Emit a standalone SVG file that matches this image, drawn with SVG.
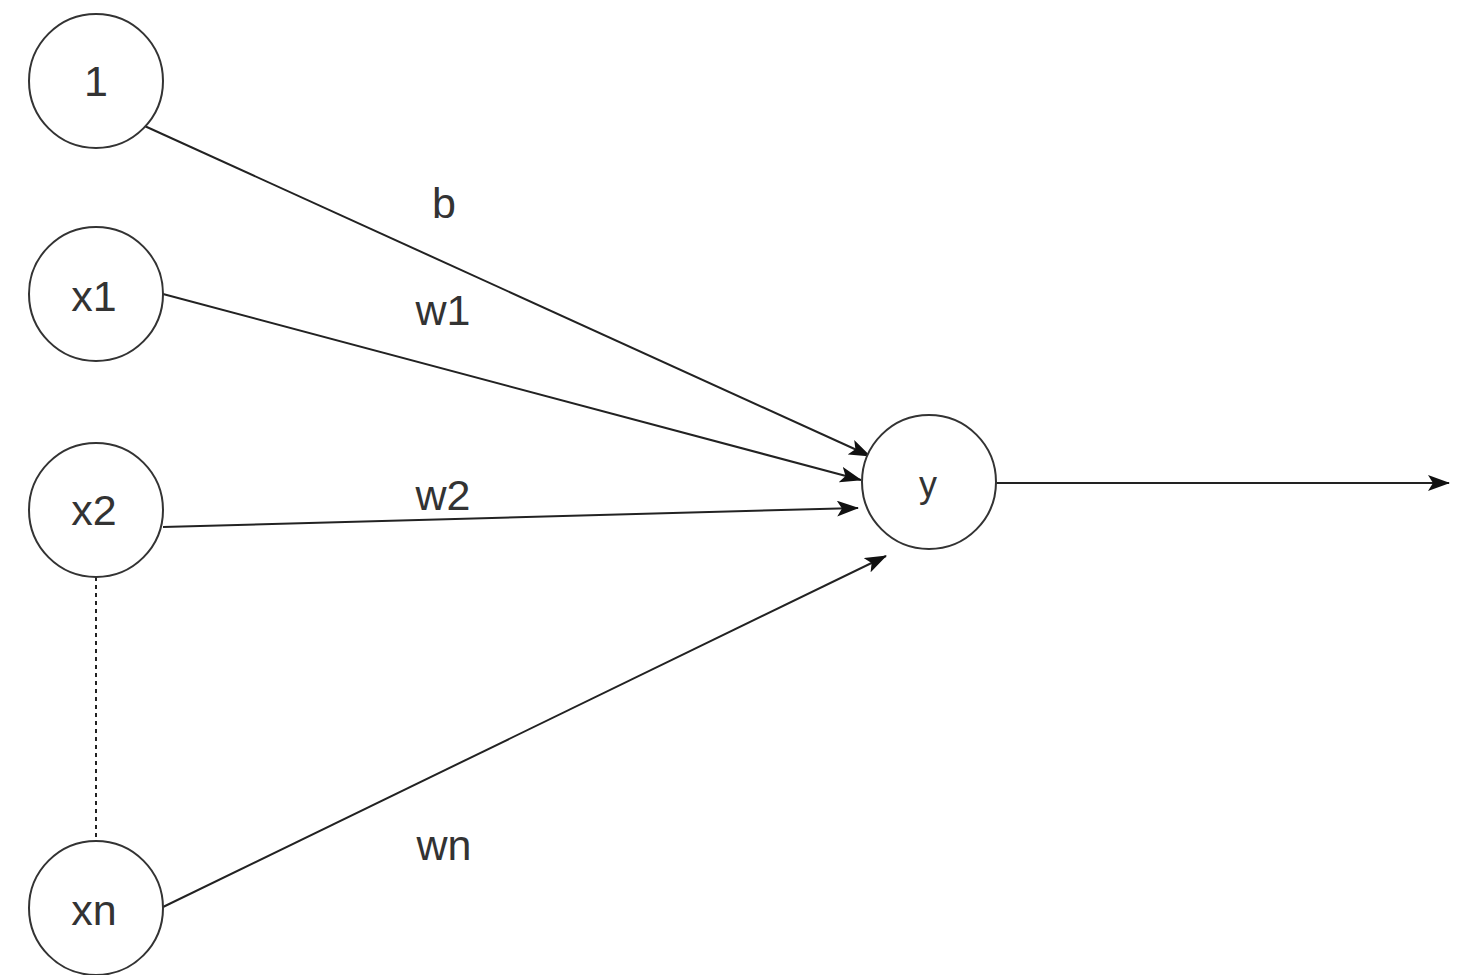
<svg xmlns="http://www.w3.org/2000/svg" width="1464" height="975" viewBox="0 0 1464 975">
<style>
.node{fill:#fff;stroke:#333;stroke-width:2}
.lbl{font-family:"Liberation Sans",Arial,sans-serif;font-size:43px;fill:#333;text-anchor:middle;dominant-baseline:central}
.edge{stroke:#222;stroke-width:2;fill:none}
</style>
<defs>
<marker id="arr" markerWidth="22" markerHeight="16" refX="21" refY="8" orient="auto" markerUnits="userSpaceOnUse">
<path d="M0,0 L22,8 L0,16 L5,8 Z" fill="#111"/>
</marker>
</defs>
<rect width="1464" height="975" fill="#fff"/>
<g id="connectors">
<line class="edge" x1="138" y1="123" x2="870" y2="456" marker-end="url(#arr)"/>
<line class="edge" x1="163" y1="294" x2="861" y2="480" marker-end="url(#arr)"/>
<line class="edge" x1="163" y1="527" x2="858" y2="508" marker-end="url(#arr)"/>
<line class="edge" x1="163" y1="907" x2="886" y2="556" marker-end="url(#arr)"/>
<line class="edge" x1="996" y1="483" x2="1449" y2="483" marker-end="url(#arr)"/>
<line class="edge" x1="96" y1="577" x2="96" y2="843" stroke="#555" stroke-dasharray="4 4" stroke-width="1.5"/>
<text class="lbl" x="444" y="203">b</text>
<text class="lbl" x="443" y="310">w1</text>
<text class="lbl" x="443" y="495">w2</text>
<text class="lbl" x="444" y="845">wn</text>
</g>
<g id="n1"><circle class="node" cx="96" cy="81" r="67"/><text class="lbl" x="96" y="81">1</text></g>
<g id="nx1"><circle class="node" cx="96" cy="294" r="67"/><text class="lbl" x="94" y="296">x1</text></g>
<g id="nx2"><circle class="node" cx="96" cy="510" r="67"/><text class="lbl" x="94" y="510">x2</text></g>
<g id="nxn"><circle class="node" cx="96" cy="908" r="67"/><text class="lbl" x="94" y="910">xn</text></g>
<g id="ny"><circle class="node" cx="929" cy="482" r="67"/><text class="lbl" x="928" y="484" style="font-size:36px">y</text></g>
</svg>
